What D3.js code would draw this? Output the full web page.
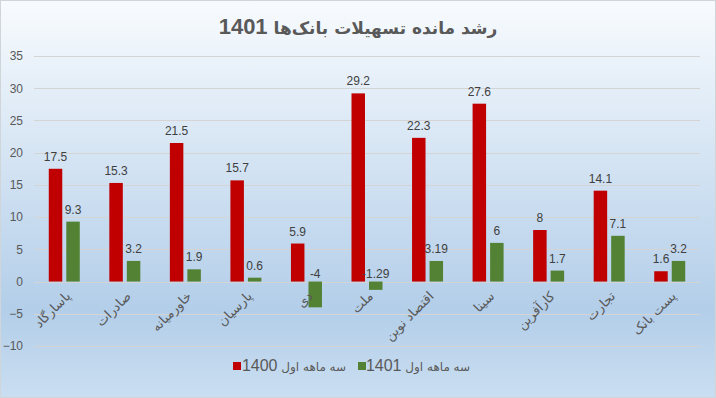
<!DOCTYPE html>
<html>
<head>
<meta charset="utf-8">
<script src="https://cdn.jsdelivr.net/npm/d3@7"></script>
<style>
  html, body { margin: 0; padding: 0; background: #fff; }
  svg { display: block; }
  text { font-family: "Liberation Sans", "DejaVu Sans", sans-serif; }
</style>
</head>
<body>
<svg id="chart" width="716" height="398"></svg>
<script>
const titleText = "رشد مانده تسهیلات بانک‌ها";
const titleYear = "1401";
const categories = ["پاسارگاد", "صادرات", "خاورمیانه", "پارسیان", "دی", "ملت", "اقتصاد نوین", "سینا", "کارآفرین", "تجارت", "پست بانک"];
const seriesNames = ["سه ماهه اول 1400", "سه ماهه اول 1401"];
const seriesLabelText = ["سه ماهه اول", "سه ماهه اول"];
const seriesLabelYear = ["1400", "1401"];
const values1400 = [17.5, 15.3, 21.5, 15.7, 5.9, 29.2, 22.3, 27.6, 8, 14.1, 1.6];
const values1401 = [9.3, 3.2, 1.9, 0.6, -4, -1.29, 3.19, 6, 1.7, 7.1, 3.2];
const yTicks = [-10, -5, 0, 5, 10, 15, 20, 25, 30, 35];
const colors = ["#c00000", "#548235"];

const W = 716, H = 398;
const svg = d3.select("#chart");
const defs = svg.append("defs");
const grad = defs.append("linearGradient").attr("id", "bg").attr("x1", 0).attr("y1", 0).attr("x2", 0).attr("y2", 1);
grad.append("stop").attr("offset", "0%").attr("stop-color", "#f8fbfe");
grad.append("stop").attr("offset", "78%").attr("stop-color", "#b3cee9");
grad.append("stop").attr("offset", "100%").attr("stop-color", "#cadef1");

svg.append("rect").attr("x", 0.5).attr("y", 0.5).attr("width", W - 1).attr("height", H - 1)
  .attr("fill", "url(#bg)").attr("stroke", "#d0d5da");

const x0 = d3.scaleBand().domain(categories).range([34, 700]).paddingInner(0).paddingOuter(0);
const bw = x0.bandwidth();
const x1 = d3.scaleBand().domain([0, 1]).range([bw / 2 - 15.5, bw / 2 + 15.5]).paddingInner(0.23).paddingOuter(0);
const y = d3.scaleLinear().domain([-10, 35]).range([346, 56]);

// gridlines
svg.append("g").selectAll("line").data(yTicks).join("line")
  .attr("x1", 34).attr("x2", 700)
  .attr("y1", d => Math.round(y(d)) + 0.5).attr("y2", d => Math.round(y(d)) + 0.5)
  .attr("stroke", "#d4d4d4").attr("stroke-width", 1);

// y axis labels
const yAxis = d3.axisLeft(y).tickValues(yTicks).tickSize(0).tickPadding(0);
const yg = svg.append("g").attr("transform", "translate(23,0)").call(yAxis);
yg.select(".domain").remove();
yg.selectAll("text").attr("fill", "#595959").style("font-size", "12px")
  .style("font-family", "'Liberation Sans', sans-serif");

// bars
const series = [values1400, values1401];
series.forEach((vals, si) => {
  const g = svg.append("g");
  g.selectAll("rect").data(vals).join("rect")
    .attr("x", (d, i) => x0(categories[i]) + x1(si))
    .attr("width", x1.bandwidth())
    .attr("y", d => y(Math.max(0, d)))
    .attr("height", d => Math.abs(y(d) - y(0)))
    .attr("fill", colors[si]);
  g.selectAll("text").data(vals).join("text")
    .attr("x", (d, i) => x0(categories[i]) + x1(si) + x1.bandwidth() / 2)
    .attr("y", d => d >= 0 ? y(d) - 8 : y(0) - 4)
    .attr("text-anchor", "middle")
    .attr("fill", "#404040")
    .style("font-size", "12px")
    .text(d => String(d));
});

// category labels
const xAxis = d3.axisBottom(x0).tickSize(0).tickPadding(0);
const xg = svg.append("g").call(xAxis);
xg.select(".domain").remove();
xg.selectAll(".tick text")
  .attr("y", null).attr("dy", null)
  .attr("text-anchor", "end")
  .attr("fill", "#595959")
  .style("font-size", "13px")
  .style("font-family", "'DejaVu Sans', sans-serif")
  .attr("transform", "translate(7,297) rotate(-45)");

// title
const tt = svg.append("text")
  .attr("x", 358).attr("y", 34)
  .attr("text-anchor", "middle")
  .attr("direction", "rtl")
  .attr("fill", "#595959")
  .style("font-weight", "bold");
tt.append("tspan").style("font-size", "17px").style("font-family", "'DejaVu Sans', sans-serif").text(titleText + " ");
tt.append("tspan").style("font-size", "22px").style("font-family", "'Liberation Sans', sans-serif").text(titleYear);

// legend
const legendItems = [
  { sq: 233, cx: 294 },
  { sq: 358, cx: 418 }
];
legendItems.forEach((it, i) => {
  svg.append("rect").attr("x", it.sq).attr("y", 362).attr("width", 8).attr("height", 8).attr("fill", colors[i]);
  const t = svg.append("text")
    .attr("x", it.cx).attr("y", 371)
    .attr("text-anchor", "middle")
    .attr("direction", "rtl")
    .attr("fill", "#595959");
  t.append("tspan").style("font-size", "12px").style("font-family", "'DejaVu Sans', sans-serif").text(seriesLabelText[i] + " ");
  t.append("tspan").style("font-size", "16px").style("font-family", "'Liberation Sans', sans-serif").text(seriesLabelYear[i]);
});
</script>
</body>
</html>
